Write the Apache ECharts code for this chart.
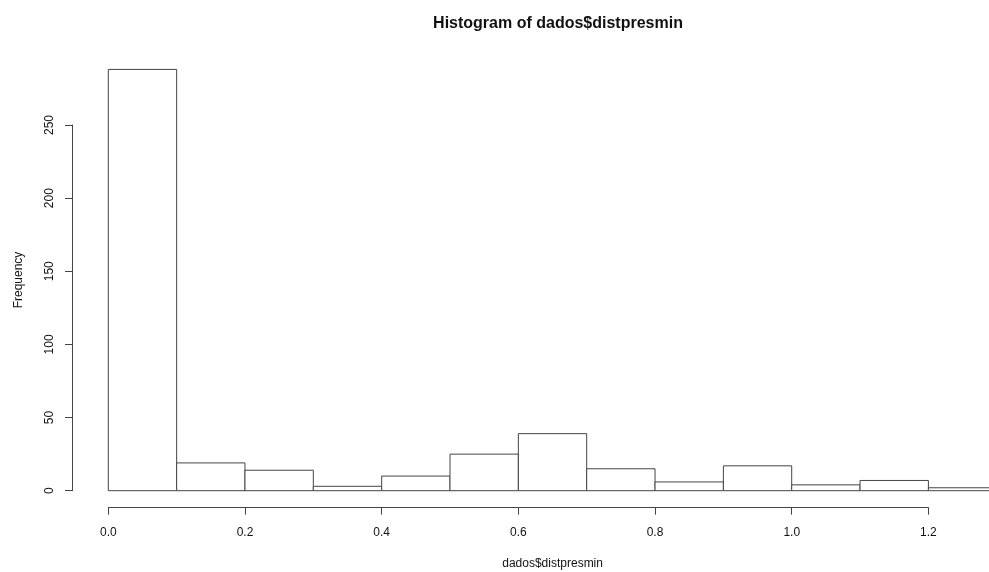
<!DOCTYPE html>
<html>
<head>
<meta charset="utf-8">
<title>Histogram of dados$distpresmin</title>
<script src="https://cdn.jsdelivr.net/npm/echarts@6/dist/echarts.min.js"></script>
<style>
  html, body { margin: 0; padding: 0; background: #fff; }
  #main { width: 989px; height: 572px; }
</style>
</head>
<body>
<div id="main"></div>
<script>
  // bin edges (width 0.1) and the count in each bin
  var breaks = [0.0, 0.1, 0.2, 0.3, 0.4, 0.5, 0.6, 0.7, 0.8, 0.9, 1.0, 1.1, 1.2, 1.3];
  var counts = [288, 19, 14, 3, 10, 25, 39, 15, 6, 17, 4, 7, 2];
  var xTicks = [0.0, 0.2, 0.4, 0.6, 0.8, 1.0, 1.2];
  var yTicks = [0, 50, 100, 150, 200, 250];

  var font = '"Liberation Sans", Arial, Helvetica, sans-serif';
  var ink = '#111';
  var lineCol = '#444';

  var bins = counts.map(function (c, i) {
    return [breaks[i], breaks[i + 1], c];
  });

  var chart = echarts.init(document.getElementById('main'));
  chart.setOption({
    animation: false,
    backgroundColor: '#fff',
    title: {
      text: 'Histogram of dados$distpresmin',
      left: 553,
      top: 11,
      textAlign: 'center',
      textStyle: { fontFamily: font, fontSize: 16, fontWeight: 'bold', color: ink }
    },
    grid: { left: 108.3, top: 125, width: 820.1, height: 365.7 },
    xAxis: {
      type: 'value',
      min: xTicks[0],
      max: xTicks[xTicks.length - 1],
      interval: 0.2,
      offset: 17,
      splitLine: { show: false },
      axisLine: { show: true, onZero: false, lineStyle: { color: lineCol, width: 1 } },
      axisTick: { show: true, length: 7, lineStyle: { color: lineCol } },
      axisLabel: {
        margin: 19,
        color: ink,
        fontFamily: font,
        fontSize: 12,
        formatter: function (v) { return v.toFixed(1); }
      }
    },
    yAxis: {
      type: 'value',
      min: yTicks[0],
      max: yTicks[yTicks.length - 1],
      interval: 50,
      offset: 36.3,
      splitLine: { show: false },
      axisLine: { show: true, onZero: false, lineStyle: { color: lineCol, width: 1 } },
      axisTick: { show: true, length: 7, lineStyle: { color: lineCol } },
      axisLabel: {
        margin: 16,
        rotate: 90,
        color: ink,
        fontFamily: font,
        fontSize: 12
      }
    },
    graphic: [
      {
        type: 'text',
        x: 552.6, y: 564,
        style: { text: 'dados$distpresmin', textAlign: 'center', textVerticalAlign: 'middle',
                 font: '12px ' + font, fill: ink }
      },
      {
        type: 'text',
        x: 19, y: 280,
        rotation: Math.PI / 2,
        style: { text: 'Frequency', textAlign: 'center', textVerticalAlign: 'middle',
                 font: '12px ' + font, fill: ink }
      }
    ],
    series: [{
      type: 'custom',
      clip: false,
      data: bins,
      encode: { x: [0, 1], y: 2 },
      renderItem: function (params, api) {
        var topLeft = api.coord([api.value(0), api.value(2)]);
        var bottomRight = api.coord([api.value(1), 0]);
        return {
          type: 'rect',
          shape: {
            x: topLeft[0],
            y: topLeft[1],
            width: bottomRight[0] - topLeft[0],
            height: bottomRight[1] - topLeft[1]
          },
          style: { fill: '#fff', stroke: lineCol, lineWidth: 1 }
        };
      }
    }]
  });
</script>
</body>
</html>
